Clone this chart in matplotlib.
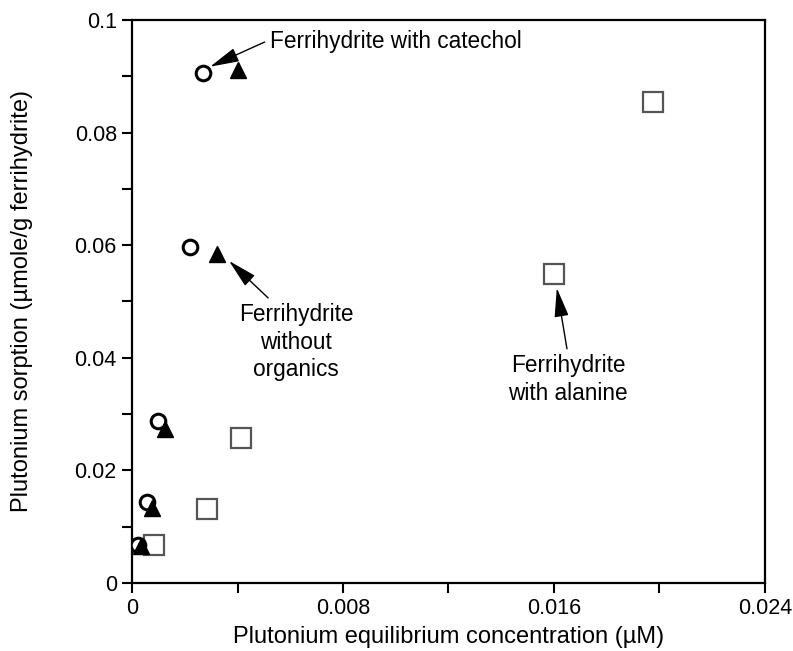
import matplotlib
matplotlib.use("Agg")
import matplotlib.pyplot as plt
from matplotlib.ticker import MultipleLocator

plt.rcParams['font.family'] = ['Liberation Sans', 'DejaVu Sans']

# Ferrihydrite with catechol (open circles)
catechol_x = [0.00022, 0.00056, 0.0010, 0.0022, 0.00268]
catechol_y = [0.0068, 0.0143, 0.0288, 0.0597, 0.0906]

# Ferrihydrite without organics (filled triangles)
noorg_x = [0.00035, 0.00075, 0.00125, 0.00322, 0.0040]
noorg_y = [0.0066, 0.0134, 0.0274, 0.0585, 0.0911]

# Ferrihydrite with alanine (open squares)
alanine_x = [0.00085, 0.00286, 0.00412, 0.01601, 0.01976]
alanine_y = [0.0067, 0.0132, 0.0257, 0.0548, 0.0854]

x_ticks = [0, 0.008, 0.016, 0.024]
x_ticklabels = ['0', '0.008', '0.016', '0.024']
y_ticks = [0, 0.02, 0.04, 0.06, 0.08, 0.1]
y_ticklabels = ['0', '0.02', '0.04', '0.06', '0.08', '0.1']

fig = plt.figure(figsize=(7.93, 6.51), dpi=100)
ax = fig.add_axes([0.1665, 0.1045, 0.798, 0.8648])

ax.plot(alanine_x, alanine_y, linestyle='none', marker='s', markersize=14,
        markerfacecolor='white', markeredgecolor='#555555', markeredgewidth=1.6, zorder=3)
ax.plot(catechol_x, catechol_y, linestyle='none', marker='o', markersize=10.5,
        markerfacecolor='white', markeredgecolor='black', markeredgewidth=2.2, zorder=4)
ax.plot(noorg_x, noorg_y, linestyle='none', marker='^', markersize=11,
        markerfacecolor='black', markeredgecolor='black', markeredgewidth=1.0, zorder=5)

ax.set_xlim(0, 0.024)
ax.set_ylim(0, 0.1)
ax.set_xticks(x_ticks)
ax.set_xticklabels(x_ticklabels)
ax.set_yticks(y_ticks)
ax.set_yticklabels(y_ticklabels)
ax.xaxis.set_minor_locator(MultipleLocator(0.004))
ax.yaxis.set_minor_locator(MultipleLocator(0.01))
ax.tick_params(which='both', direction='out', length=7, width=1.5, labelsize=15.5,
               top=False, right=False, pad=4)
for s in ax.spines.values():
    s.set_linewidth(1.6)

ax.set_xlabel('Plutonium equilibrium concentration (\u00b5M)', fontsize=17, labelpad=5)
ax.set_ylabel('Plutonium sorption (\u00b5mole/g ferrihydrite)', fontsize=17, labelpad=30)

def arrow(rel):
    return dict(arrowstyle='-|>,head_length=0.9,head_width=0.22', color='black', lw=1.0,
                mutation_scale=20, shrinkA=2, shrinkB=0, relpos=rel)

ax.annotate('Ferrihydrite with catechol', xy=(0.00296, 0.0917), xytext=(0.00523, 0.0961),
            fontsize=16.3, ha='left', va='center', arrowprops=arrow((0.0, 0.6)))
ax.annotate('Ferrihydrite\nwithout\norganics', xy=(0.00368, 0.0572), xytext=(0.00622, 0.0428),
            fontsize=16.3, ha='center', va='center', linespacing=1.27, arrowprops=arrow((0.3, 1.0)))
ax.annotate('Ferrihydrite\nwith alanine', xy=(0.01611, 0.0524), xytext=(0.01653, 0.0361),
            fontsize=16.3, ha='center', va='center', linespacing=1.27, arrowprops=arrow((0.5, 1.0)))

fig.savefig('out.png', dpi=100)
